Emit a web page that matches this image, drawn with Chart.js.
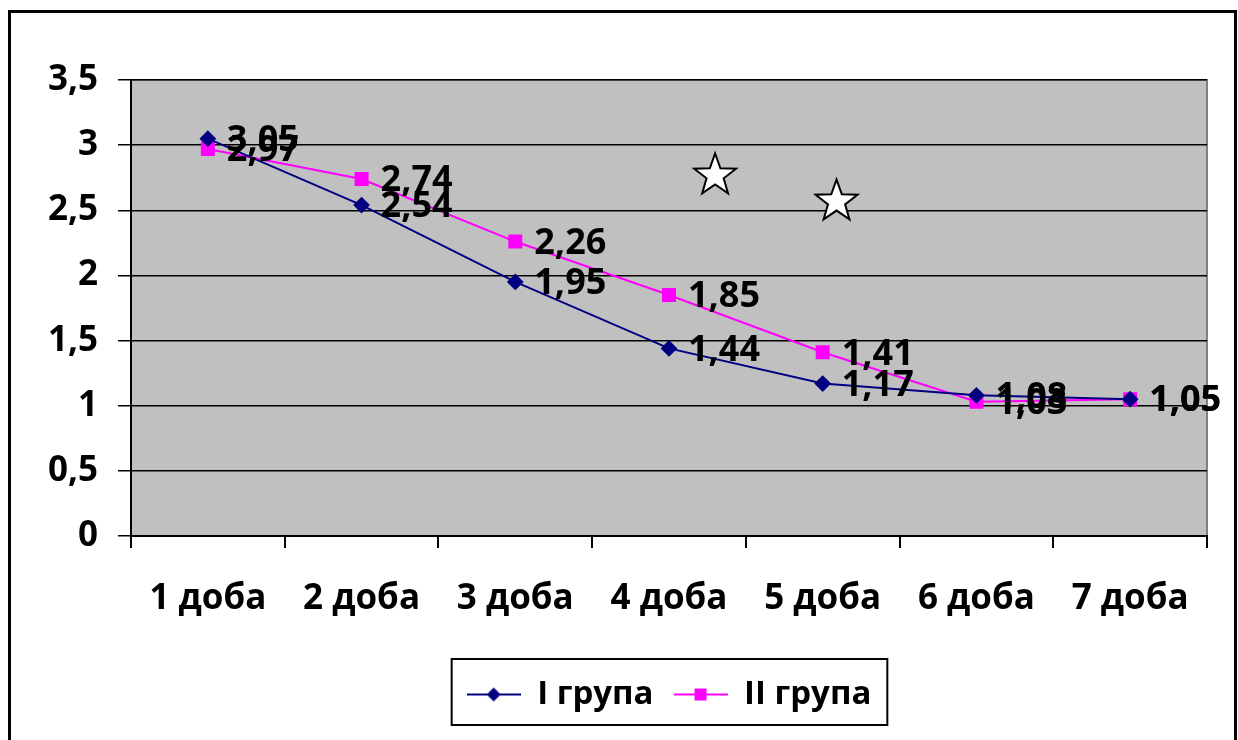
<!DOCTYPE html>
<html>
<head>
<meta charset="utf-8">
<script src="https://cdn.jsdelivr.net/npm/chart.js@4/dist/chart.umd.min.js"></script>
<style>
  html, body { margin: 0; padding: 0; background: #fff; }
  #wrap { width: 1238px; height: 740px; }
</style>
</head>
<body>
<div id="wrap"><canvas id="chart" width="1238" height="740"></canvas></div>
<script>
const days = ["1 доба", "2 доба", "3 доба", "4 доба", "5 доба", "6 доба", "7 доба"];
const group1 = [3.05, 2.54, 1.95, 1.44, 1.17, 1.08, 1.05];
const group2 = [2.97, 2.74, 2.26, 1.85, 1.41, 1.03, 1.05];
const yTicks = [0, 0.5, 1, 1.5, 2, 2.5, 3, 3.5];
// significance stars: position along the category axis and value
const starPos = [3.3, 4.09];
const starVals = [2.79, 2.59];

const FONT = "'Open Sans', sans-serif";
const comma = v => String(v).replace(".", ",");

function legendSymbol(color, style) {
  const c = document.createElement("canvas");
  c.width = 54; c.height = 20;
  const g = c.getContext("2d");
  g.strokeStyle = color; g.lineWidth = 2;
  g.beginPath(); g.moveTo(0, 10); g.lineTo(54, 10); g.stroke();
  g.fillStyle = color;
  g.beginPath();
  if (style === "diamond") {
    g.moveTo(27, 3); g.lineTo(34, 10); g.lineTo(27, 17); g.lineTo(20, 10);
  } else {
    g.rect(21, 4, 12, 12);
  }
  g.fill();
  return c;
}

const frame = {
  id: "frame",
  beforeDraw(chart) {
    const { ctx, chartArea: a } = chart;
    ctx.save();
    ctx.fillStyle = "#c0c0c0";
    ctx.fillRect(a.left, a.top, a.right - a.left, a.bottom - a.top);
    ctx.strokeStyle = "#808080";
    ctx.lineWidth = 2;
    ctx.beginPath();
    ctx.moveTo(a.left, a.top); ctx.lineTo(a.right, a.top); ctx.lineTo(a.right, a.bottom);
    ctx.stroke();
    ctx.restore();
  },
  afterDraw(chart) {
    const { ctx } = chart;
    ctx.save();
    ctx.strokeStyle = "#000";
    ctx.lineWidth = 3;
    ctx.strokeRect(9.5, 11.5, 1226, 800);
    const hb = chart.legend.legendHitBoxes;
    if (hb && hb.length) {
      const l = Math.min(...hb.map(h => h.left)) - 15;
      const r = Math.max(...hb.map(h => h.left + h.width)) + 16;
      const t = hb[0].top - 19;
      const b = hb[0].top + hb[0].height + 14;
      ctx.lineWidth = 2;
      ctx.strokeRect(l, t, r - l, b - t);
    }
    ctx.restore();
  }
};

const labelsAndStars = {
  id: "labelsAndStars",
  afterDatasetsDraw(chart) {
    const { ctx } = chart;
    ctx.save();
    ctx.fillStyle = "#000";
    ctx.font = "bold 36px " + FONT;
    ctx.textBaseline = "middle";
    ctx.textAlign = "left";
    chart.data.datasets.forEach((ds, i) => {
      chart.getDatasetMeta(i).data.forEach((pt, j) => {
        ctx.fillText(comma(ds.data[j]), pt.x + 19, pt.y + 2);
      });
    });
    const xs = chart.scales.x, ys = chart.scales.y;
    starPos.forEach((p, k) => {
      const cx = xs.getPixelForValue(p), cy = ys.getPixelForValue(starVals[k]);
      ctx.beginPath();
      for (let n = 0; n < 10; n++) {
        const r = n % 2 === 0 ? 22 : 9;
        const ang = -Math.PI / 2 + n * Math.PI / 5;
        const px = cx + r * Math.cos(ang), py = cy + 3 + r * Math.sin(ang);
        n === 0 ? ctx.moveTo(px, py) : ctx.lineTo(px, py);
      }
      ctx.closePath();
      ctx.fillStyle = "#fff";
      ctx.fill();
      ctx.strokeStyle = "#000";
      ctx.lineWidth = 2;
      ctx.stroke();
    });
    ctx.restore();
  }
};

new Chart(document.getElementById("chart"), {
  type: "line",
  data: {
    labels: days,
    datasets: [
      {
        label: "I група",
        data: group1,
        borderColor: "#000080",
        backgroundColor: "#000080",
        borderWidth: 2,
        pointStyle: "rectRot",
        pointRadius: 7,
        tension: 0,
      },
      {
        label: "II група",
        data: group2,
        borderColor: "#ff00ff",
        backgroundColor: "#ff00ff",
        borderWidth: 2,
        pointStyle: "rect",
        pointRadius: 8.5,
        tension: 0,
      },
    ],
  },
  options: {
    responsive: false,
    animation: false,
    events: [],
    layout: { padding: { left: 10, right: 31, top: 80, bottom: 19 } },
    plugins: {
      tooltip: { enabled: false },
      legend: {
        position: "bottom",
        fullSize: false,
        labels: {
          color: "#000",
          font: { family: FONT, size: 33, weight: "bold" },
          usePointStyle: true,
          pointStyleWidth: 54,
          padding: 20,
          generateLabels(chart) {
            const items = Chart.defaults.plugins.legend.labels.generateLabels(chart);
            items[0].pointStyle = legendSymbol("#000080", "diamond");
            items[1].pointStyle = legendSymbol("#ff00ff", "square");
            return items;
          },
        },
      },
    },
    scales: {
      x: {
        offset: true,
        grid: { offset: true, drawOnChartArea: false, color: "#000", lineWidth: 2, tickLength: 12 },
        border: { color: "#000", width: 2 },
        ticks: { color: "#000", font: { family: FONT, size: 35, weight: "bold" }, padding: 30, maxRotation: 0 },
        afterFit(s) { s.height = 122; },
      },
      y: {
        min: 0,
        max: 3.5,
        afterBuildTicks(s) { s.ticks = yTicks.map(v => ({ value: v })); },
        grid: { color: "#000", lineWidth: 1.5, tickLength: 13 },
        border: { color: "#000", width: 2 },
        ticks: { color: "#000", font: { family: FONT, size: 35, weight: "bold" }, padding: 20, callback: v => comma(v) },
        afterFit(s) { s.width = 121; },
      },
    },
  },
  plugins: [frame, labelsAndStars],
});
</script>
</body>
</html>
